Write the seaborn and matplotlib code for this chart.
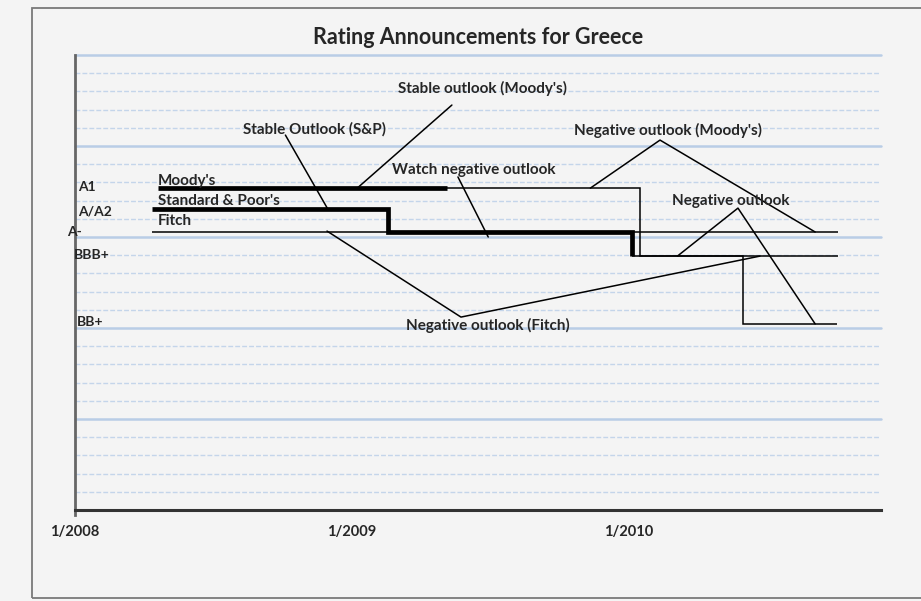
import pandas as pd
import numpy as np
import matplotlib
matplotlib.use("Agg")
import matplotlib.pyplot as plt
import matplotlib.dates as mdates
import matplotlib.transforms as mtransforms
from matplotlib.patches import Rectangle
import seaborn as sns

# Rating levels (notches on the chart's hidden numeric axis)
LEVEL_A1 = 14.15
LEVEL_A = 13.23
LEVEL_AMINUS = 12.22
LEVEL_BBBPLUS = 11.16
LEVEL_BBPLUS = 8.18

# Moody's: thick part, then thin part
moodys_thick_dates = ["2008-04-20", "2009-05-07"]
moodys_thick_levels = [LEVEL_A1, LEVEL_A1]
moodys_thin_dates = ["2009-05-07", "2010-01-16", "2010-06-02", "2010-10-04"]
moodys_thin_levels = [LEVEL_A1, LEVEL_BBBPLUS, LEVEL_BBPLUS, LEVEL_BBPLUS]

# Standard & Poor's
sp_thick_dates = ["2008-04-12", "2009-02-18", "2010-01-06"]
sp_thick_levels = [LEVEL_A, LEVEL_AMINUS, LEVEL_BBBPLUS]
sp_thin_dates = ["2010-01-06", "2010-10-05"]
sp_thin_levels = [LEVEL_BBBPLUS, LEVEL_BBBPLUS]

# Fitch
fitch_dates = ["2008-04-12", "2010-10-05"]
fitch_levels = [12.24, 12.24]

# Left-hand rating labels
rating_labels = ["A1", "A/A2", "A-", "BBB+", "BB+"]
rating_label_levels = [14.2, 13.1, 12.22, 11.2, 8.26]
rating_label_x = [78, 78, 67, 74, 77]  # pixel left edges

# Series labels
series_names = ["Moody's", "Standard & Poor's", "Fitch"]
series_name_dates = ["2008-04-20", "2008-04-20", "2008-04-19"]
series_name_levels = [14.45, 13.6, 12.72]

# Annotations: text, text position, pointer polyline
notes = ["Stable outlook (Moody's)", "Stable Outlook (S&P)", "Negative outlook (Moody's)",
         "Watch negative outlook", "Negative outlook", "Negative outlook (Fitch)"]
note_dates = ["2009-06-22", "2008-11-13", "2010-02-23", "2009-06-11", "2010-05-17", "2009-06-29"]
note_levels = [18.55, 16.75, 16.7, 14.95, 13.58, 8.09]
pointer_dates = [["2009-05-13", "2009-01-08"],
                 ["2008-10-05", "2008-11-30"],
                 ["2009-11-12", "2010-02-12", "2010-09-05"],
                 ["2009-05-21", "2009-06-30"],
                 ["2010-03-07", "2010-05-26", "2010-09-05"],
                 ["2008-11-29", "2009-05-25", "2010-06-24"]]
pointer_levels = [[17.80, LEVEL_A1],
                  [16.48, LEVEL_A],
                  [LEVEL_A1, 16.26, LEVEL_AMINUS],
                  [14.64, 12.0],
                  [LEVEL_BBBPLUS, 13.27, LEVEL_BBPLUS],
                  [12.26, 8.48, LEVEL_BBBPLUS]]

BG = "#f4f4f4"
FONT = ["Lato", "DejaVu Sans"]

sns.set_style("white")
plt.rcParams["font.family"] = FONT

fig = plt.figure(figsize=(9.21, 6.01), dpi=100, facecolor=BG)
ax = fig.add_axes([75 / 921, 91 / 601, 806 / 921, 455 / 601])
ax.set_facecolor(BG)


def draw(dates, levels, lw):
    d = pd.DataFrame({"date": pd.to_datetime(dates), "level": levels})
    sns.lineplot(data=d, x="date", y="level", ax=ax, color="black", linewidth=lw,
                 drawstyle="steps-post", sort=False, estimator=None,
                 solid_capstyle="butt", solid_joinstyle="miter")


draw(fitch_dates, fitch_levels, 1.1)
draw(moodys_thin_dates, moodys_thin_levels, 1.1)
draw(sp_thin_dates, sp_thin_levels, 1.1)
draw(moodys_thick_dates, moodys_thick_levels, 3.4)
draw(sp_thick_dates, sp_thick_levels, 3.4)

ax.set_ylim(0, 20)
ax.set_xlim(pd.Timestamp("2008-01-01"), pd.Timestamp("2010-12-01"))

# gridlines: major every 4, minor every 0.8
for i in range(1, 26):
    v = 0.8 * i
    if i % 5 == 0:
        ax.axhline(v, color="#b9cde6", lw=1.8, zorder=0, clip_on=False)
    else:
        ax.axhline(v, color="#c4d5ea", lw=1.0, ls=(0, (3.5, 1.5)), zorder=0)

ax.xaxis.set_major_locator(mdates.YearLocator())
ax.xaxis.set_minor_locator(mdates.MonthLocator())
ax.xaxis.set_major_formatter(mdates.DateFormatter("1/%Y"))
ax.tick_params(axis="x", which="major", direction="inout", length=10, width=1.5,
               color="#333333", pad=6, labelsize=10.5)
ax.tick_params(axis="x", which="minor", direction="in", length=4, width=1.2, color="#333333")
for lab in ax.get_xticklabels():
    lab.set_fontweight("bold")
ax.set_yticks([])
ax.set_xlabel("")
ax.set_ylabel("")

for s in ["top", "right"]:
    ax.spines[s].set_visible(False)
ax.spines["bottom"].set_color("#333333")
ax.spines["bottom"].set_linewidth(2.2)
ax.spines["left"].set_color("#666666")
ax.spines["left"].set_linewidth(2.0)
ax.spines["left"].set_bounds(-0.2, 20)

# rating labels
tr = mtransforms.blended_transform_factory(fig.transFigure, ax.transData)
for lab, lev, px in zip(rating_labels, rating_label_levels, rating_label_x):
    ax.text(px / 921, lev, lab, transform=tr, ha="left", va="center",
            fontsize=10, fontweight="bold", clip_on=False)

for name, d, lev in zip(series_names, series_name_dates, series_name_levels):
    ax.text(mdates.date2num(pd.Timestamp(d)), lev, name, ha="left", va="center",
            fontsize=11, fontweight="bold")

for txt, d, lev, pds, pls in zip(notes, note_dates, note_levels, pointer_dates, pointer_levels):
    ax.text(mdates.date2num(pd.Timestamp(d)), lev, txt, ha="center", va="center",
            fontsize=11, fontweight="bold")
    ax.plot(mdates.date2num(pd.to_datetime(pds)), pls, color="black", lw=1.1)

fig.text(478 / 921, 1 - 38 / 601, "Rating Announcements for Greece", ha="center",
         va="center", fontsize=15.5, fontweight="bold")

fig.add_artist(Rectangle((32 / 921, 3 / 601), 1.2, 590 / 601, transform=fig.transFigure,
                         fill=False, edgecolor="#7a7a7a", lw=1.3))

fig.savefig("out.png", dpi=100, facecolor=BG)
